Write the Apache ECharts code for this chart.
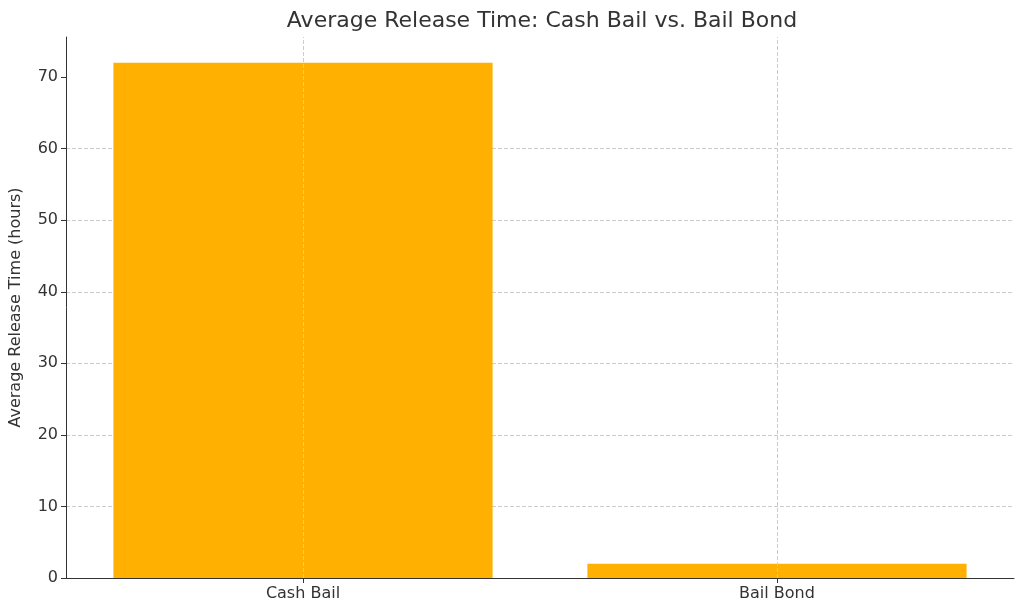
<!DOCTYPE html>
<html><head><meta charset="utf-8">
<script src="https://cdn.jsdelivr.net/npm/echarts@6/dist/echarts.min.js"></script>
<style>html,body{margin:0;padding:0;background:#fff}#c{width:1024px;height:611px}</style>
</head><body><div id="c"></div>
<script>
const categories = ['Cash Bail', 'Bail Bond'];
const values = [72, 2];
const yTicks = [0, 10, 20, 30, 40, 50, 60, 70];
const chart = echarts.init(document.getElementById('c'));
const font = 'DejaVu Sans';
chart.setOption({
  animation: false,
  textStyle: { fontFamily: font },
  title: { text: 'Average Release Time: Cash Bail vs. Bail Bond', left: 537, top: 5, textAlign: 'center',
    textStyle: { fontFamily: font, fontSize: 22, fontWeight: 'normal', color: '#333' } },
  grid: { left: 60, right: 10, top: 37, bottom: 33 },
  xAxis: { type: 'category', data: categories,
    axisLine: { lineStyle: { color: '#333' } }, axisTick: { show: true, alignWithLabel: true, lineStyle: { color: '#333' } },
    axisLabel: { fontSize: 16, color: '#333', fontFamily: font } },
  yAxis: { type: 'value', min: 0, max: 75.6, interval: 10,
    name: 'Average Release Time (hours)', nameLocation: 'middle', nameGap: 42,
    nameTextStyle: { fontSize: 16, color: '#333', fontFamily: font },
    axisLine: { show: true, lineStyle: { color: '#333' } },
    axisTick: { show: true, customValues: yTicks, lineStyle: { color: '#333' } },
    axisLabel: { fontSize: 16, color: '#333', fontFamily: font, customValues: yTicks },
    splitLine: { showMaxLine: false, lineStyle: { color: '#ccc', type: 'dashed' } } },
  series: [{ type: 'bar', data: values, barWidth: '80%', itemStyle: { color: '#FFB000' },
    markLine: { silent: true, symbol: 'none', label: { show: false },
      lineStyle: { color: '#ccc', type: 'dashed', width: 1 },
      data: categories.map(c => ({ xAxis: c })) } }]
});
</script></body></html>
